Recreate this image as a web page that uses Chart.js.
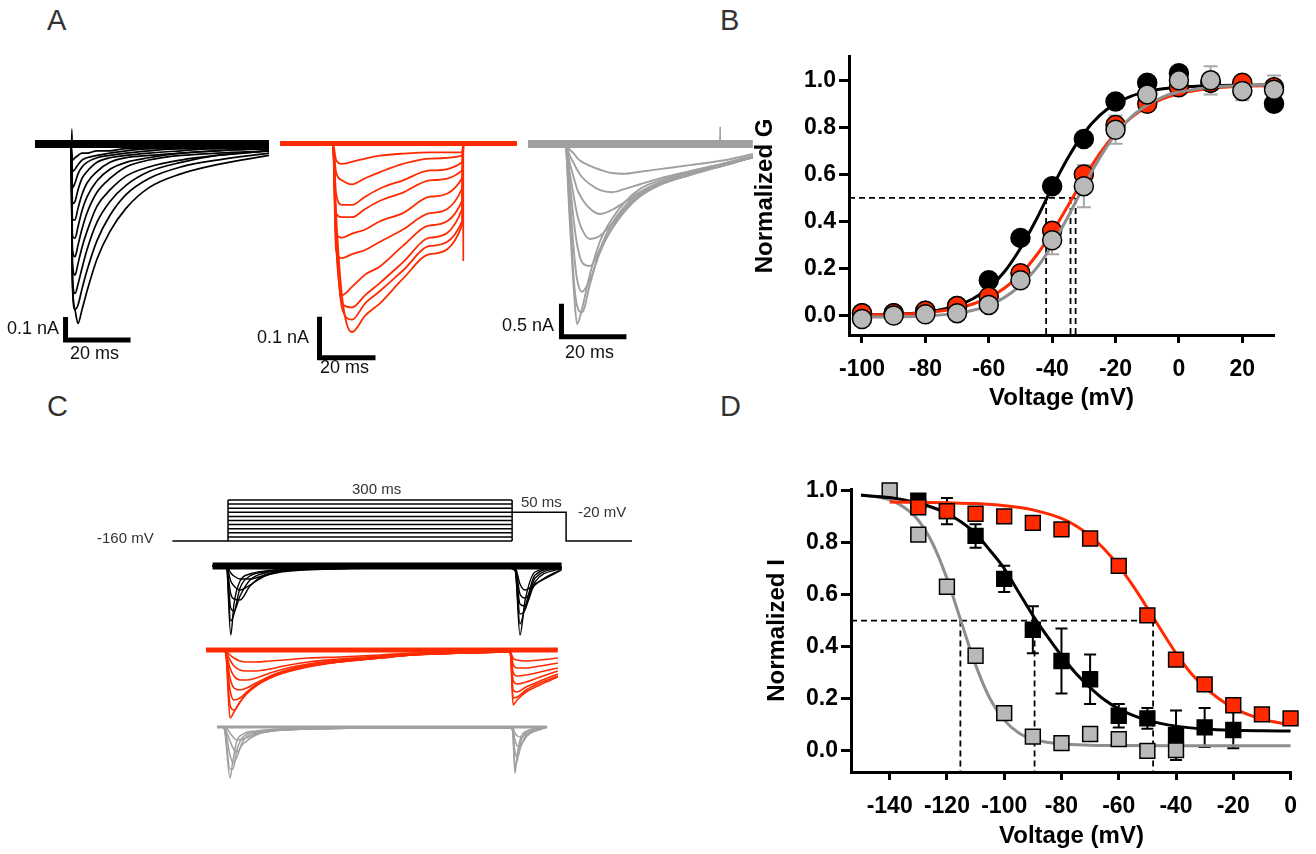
<!DOCTYPE html>
<html><head><meta charset="utf-8">
<script src="https://cdn.jsdelivr.net/npm/chart.js@4.4.1/dist/chart.umd.min.js"></script>
<style>
html,body{margin:0;padding:0;background:#fff;}
body{width:1316px;height:854px;position:relative;overflow:hidden;font-family:"Liberation Sans",Arial,Helvetica,sans-serif;}
canvas{position:absolute;}
.lbl{position:absolute;color:#111;font-size:18px;line-height:20px;white-space:nowrap;}
.pl{position:absolute;color:#333;font-size:29px;line-height:29px;}
.pt{position:absolute;color:#333;font-size:15px;line-height:18px;white-space:nowrap;}
</style></head><body>
<div class="pl" style="left:47px;top:6px">A</div>
<div class="pl" style="left:720px;top:6px">B</div>
<div class="pl" style="left:47px;top:392px">C</div>
<div class="pl" style="left:720px;top:392px">D</div>

<canvas id="a1" width="240" height="240" style="left:35px;top:120px"></canvas>
<canvas id="a2" width="240" height="260" style="left:280px;top:120px"></canvas>
<canvas id="a3" width="235" height="250" style="left:525px;top:115px"></canvas>
<canvas id="c" width="500" height="330" style="left:150px;top:470px"></canvas>
<canvas id="b" width="560" height="390" style="left:740px;top:40px"></canvas>
<canvas id="d" width="570" height="389" style="left:740px;top:465px"></canvas>

<div class="lbl" style="left:7px;top:318px">0.1 nA</div>
<div class="lbl" style="left:70px;top:343px">20 ms</div>
<div class="lbl" style="left:257px;top:327px">0.1 nA</div>
<div class="lbl" style="left:320px;top:357px">20 ms</div>
<div class="lbl" style="left:502px;top:315px">0.5 nA</div>
<div class="lbl" style="left:565px;top:342px">20 ms</div>

<div class="pt" style="left:352px;top:480px">300 ms</div>
<div class="pt" style="left:521px;top:493px">50 ms</div>
<div class="pt" style="left:578px;top:503px">-20 mV</div>
<div class="pt" style="left:97px;top:529px">-160 mV</div>

<script>
// ================= DATA =================
// ---- Panel A : current traces (time in ms, current in nA) ----
const aBlackTime = [0, 11.08, 11.54, 12.31, 13.23, 14.46, 16, 19.08, 23.08, 28, 35.08, 44.92, 56, 72];
const aBlackTraces = [
  [0, 0, -0.60, -0.72, -0.78, -0.72, -0.64, -0.50, -0.38, -0.28, -0.19, -0.13, -0.09, -0.05],
  [0, 0, -0.62, -0.72, -0.70, -0.63, -0.55, -0.42, -0.31, -0.22, -0.15, -0.10, -0.07, -0.04],
  [0, 0, -0.58, -0.65, -0.61, -0.54, -0.46, -0.34, -0.25, -0.18, -0.12, -0.08, -0.05, -0.03],
  [0, 0, -0.52, -0.57, -0.52, -0.45, -0.38, -0.27, -0.20, -0.14, -0.10, -0.07, -0.05, -0.03],
  [0, 0, -0.46, -0.49, -0.44, -0.37, -0.30, -0.21, -0.15, -0.10, -0.07, -0.05, -0.04, -0.03],
  [0, 0, -0.40, -0.41, -0.36, -0.29, -0.23, -0.16, -0.11, -0.08, -0.06, -0.04, -0.03, -0.02],
  [0, 0, -0.33, -0.33, -0.28, -0.22, -0.17, -0.12, -0.08, -0.06, -0.05, -0.04, -0.03, -0.02],
  [0, 0, -0.26, -0.25, -0.20, -0.15, -0.12, -0.08, -0.06, -0.05, -0.04, -0.03, -0.02, -0.02],
  [0, 0, -0.19, -0.17, -0.13, -0.10, -0.08, -0.06, -0.05, -0.04, -0.03, -0.02, -0.02, -0.01],
  [0, 0, -0.12, -0.11, -0.09, -0.07, -0.06, -0.05, -0.04, -0.03, -0.02, -0.02, -0.01, -0.01],
  [0, 0, -0.07, -0.06, -0.05, -0.04, -0.04, -0.03, -0.03, -0.02, -0.02, -0.01, -0.01, -0.01]
];
const aBlackArtifactT = [11.2, 11.35, 11.5];
const aBlackArtifactI = [0, 0.065, 0];
const aBlackBarT = [9.4, 9.4, 29.4];
const aBlackBarI = [-0.752, -0.852, -0.852];

const aRedTime = [0, 18.9, 20.0, 22.1, 25.7, 30.4, 35.7, 43.9, 53.6, 65.0, 65.5, 84.6];
const aRedTraces = [
  [0, 0, -0.17, -0.37, -0.46, -0.42, -0.39, -0.33, -0.27, -0.20, 0, 0],
  [0, 0, -0.20, -0.40, -0.43, -0.39, -0.36, -0.31, -0.25, -0.19, 0, 0],
  [0, 0, -0.22, -0.39, -0.40, -0.37, -0.34, -0.29, -0.23, -0.16, 0, 0],
  [0, 0, -0.24, -0.37, -0.35, -0.32, -0.30, -0.25, -0.20, -0.14, 0, 0],
  [0, 0, -0.26, -0.28, -0.27, -0.26, -0.24, -0.21, -0.17, -0.11, 0, 0],
  [0, 0, -0.22, -0.23, -0.22, -0.21, -0.19, -0.17, -0.13, -0.085, 0, 0],
  [0, 0, -0.17, -0.18, -0.18, -0.16, -0.14, -0.12, -0.09, -0.066, 0, 0],
  [0, 0, -0.12, -0.15, -0.15, -0.13, -0.11, -0.09, -0.066, -0.046, 0, 0],
  [0, 0, -0.07, -0.09, -0.10, -0.085, -0.07, -0.05, -0.037, -0.03, 0, 0],
  [0, 0, -0.04, -0.05, -0.045, -0.037, -0.03, -0.025, -0.022, -0.022, 0, 0]
];
const aRedTailT = [65.3, 65.4, 65.5];
const aRedTailI = [-0.05, -0.285, 0];
const aRedBarT = [14.1, 14.1, 34.1];
const aRedBarI = [-0.423, -0.523, -0.523];

const aGrayTime = [0, 11.4, 12.9, 14.2, 15.1, 16.6, 19.1, 22.2, 25.8, 29.8, 34.5, 40.6, 49.8, 62.2, 69.2];
const aGrayTraces = [
  [0, 0, -1.21, -2.27, -2.73, -2.50, -1.97, -1.47, -1.14, -0.88, -0.68, -0.55, -0.42, -0.27, -0.18],
  [0, 0, -1.06, -2.12, -2.45, -2.55, -2.12, -1.59, -1.21, -0.94, -0.73, -0.58, -0.44, -0.29, -0.20],
  [0, 0, -0.83, -1.67, -2.05, -2.24, -2.05, -1.64, -1.27, -0.98, -0.76, -0.61, -0.45, -0.30, -0.20],
  [0, 0, -0.61, -1.21, -1.52, -1.79, -1.85, -1.59, -1.29, -1.02, -0.79, -0.62, -0.47, -0.30, -0.20],
  [0, 0, -0.45, -0.83, -1.06, -1.29, -1.44, -1.39, -1.21, -0.98, -0.79, -0.62, -0.47, -0.30, -0.20],
  [0, 0, -0.30, -0.53, -0.68, -0.83, -0.98, -1.06, -1.00, -0.88, -0.73, -0.59, -0.45, -0.30, -0.20],
  [0, 0, -0.18, -0.30, -0.39, -0.50, -0.61, -0.70, -0.73, -0.68, -0.61, -0.52, -0.41, -0.27, -0.18],
  [0, 0, -0.09, -0.15, -0.21, -0.27, -0.33, -0.39, -0.44, -0.45, -0.42, -0.38, -0.32, -0.23, -0.15]
];
const aGrayArtifactT = [59.0, 59.1, 59.2];
const aGrayArtifactI = [0, 0.26, 0];
const aGrayBarT = [10.3, 10.3, 30.3];
const aGrayBarI = [-2.42, -2.92, -2.92];

// ---- Panel B : activation (G-V) ----
const bVoltage = [-100, -90, -80, -70, -60, -50, -40, -30, -20, -10, 0, 10, 20, 30];
const bBlack = [0.01, 0.01, 0.02, 0.04, 0.15, 0.33, 0.55, 0.75, 0.91, 0.99, 1.03, 0.99, 0.98, 0.90];
const bBlackErr = [0, 0, 0, 0, 0, 0, 0, 0, 0, 0, 0, 0, 0, 0.02];
const bRed = [0.01, 0.01, 0.02, 0.04, 0.08, 0.18, 0.36, 0.60, 0.81, 0.90, 0.97, 0.99, 0.99, 0.97];
const bRedErr = [0, 0, 0, 0, 0, 0.01, 0.025, 0.02, 0.02, 0, 0, 0, 0, 0];
const bGray = [-0.015, 0.0, 0.005, 0.01, 0.045, 0.15, 0.32, 0.55, 0.79, 0.94, 1.0, 1.0, 0.955, 0.96];
const bGrayErr = [0, 0, 0, 0, 0.01, 0.03, 0.06, 0.09, 0.06, 0.02, 0.02, 0.06, 0.04, 0.06];
const bFitV = [-100, -90, -80, -70, -65, -60, -55, -50, -45, -40, -35, -30, -25, -20, -15, -10, -5, 0, 10, 20, 30];
const bFitBlack = [0.002, 0.005, 0.014, 0.042, 0.071, 0.117, 0.187, 0.286, 0.408, 0.544, 0.671, 0.775, 0.851, 0.901, 0.933, 0.952, 0.964, 0.971, 0.977, 0.979, 0.98];
const bFitRed = [0.002, 0.005, 0.012, 0.031, 0.049, 0.076, 0.117, 0.175, 0.255, 0.354, 0.467, 0.582, 0.688, 0.775, 0.842, 0.889, 0.922, 0.943, 0.966, 0.975, 0.978];
const bFitGray = [-0.007, -0.006, -0.002, 0.009, 0.022, 0.043, 0.077, 0.128, 0.2, 0.3, 0.42, 0.55, 0.67, 0.77, 0.845, 0.895, 0.93, 0.95, 0.97, 0.978, 0.98];
const bHalfV = [-41.9, -34.2, -32.6];
const bXTicks = [-100, -80, -60, -40, -20, 0, 20];
const bYTicks = [0, 0.2, 0.4, 0.6, 0.8, 1.0];

// ---- Panel C : protocol (ms, mV) and traces (a.u.) ----
const cHoldT = [-58.7, 0];
const cHoldMV = -160;
const cCondDur = 300;
const cCondLevels = [-160, -140, -120, -100, -80, -60, -40, -20, 0, 20, 40];
const cTestT = [300, 357, 357, 426.6];
const cTestMV = [-20, -20, -160, -160];

const cBlackTime = [-16.3, -4.2, -1.8, 2.9, 6.3, 12.7, 23.2, 39.1, 65.5, 181.6, 297.8, 303.3, 308.3, 313.6, 324.2, 352.2];
const cBlackTraces = [
  [0, 0, 0, -69, -38, -15, -8, -5, -3, -2, -2, -5, -69, -35, -6, -1],
  [0, 0, 0, -55, -48, -22, -10, -6, -3, -2, -2, -5, -58, -42, -9, -1],
  [0, 0, 0, -42, -45, -30, -14, -7, -4, -2, -2, -4, -48, -44, -12, -2],
  [0, 0, 0, -28, -33, -34, -20, -9, -4, -2, -2, -3, -38, -40, -16, -2],
  [0, 0, 0, -15, -20, -24, -19, -10, -5, -2, -2, -2, -28, -32, -19, -3],
  [0, 0, 0, -7, -10, -13, -13, -9, -4, -2, -2, -2, -18, -24, -18, -4]
];
const cRedTime = [-23.2, -4.2, -2.1, 2.1, 6.3, 12.7, 19.7, 29.6, 44.4, 58.8, 84.5, 117.2, 160.5, 195.4, 250.3, 297.8, 298.8, 301, 305.2, 314.7, 329.5, 348.3];
const cRedTraces = [
  [0, 0, -5, -68, -62, -52, -43, -35, -27, -22, -16, -12, -8, -5, -3, -2, -10, -55, -50, -42, -35, -27],
  [0, 0, -5, -55, -60, -52, -44, -36, -28, -23, -17, -12, -8, -5, -3, -2, -10, -48, -47, -40, -33, -26],
  [0, 0, -5, -40, -50, -48, -42, -35, -28, -22, -16, -12, -8, -5, -3, -2, -8, -40, -42, -37, -31, -24],
  [0, 0, -4, -28, -38, -40, -38, -33, -26, -21, -15, -11, -7, -5, -3, -2, -6, -30, -34, -32, -27, -21],
  [0, 0, -3, -18, -26, -30, -30, -28, -23, -19, -14, -10, -7, -4, -3, -2, -5, -22, -26, -25, -22, -18],
  [0, 0, -2, -10, -16, -20, -21, -21, -19, -16, -12, -9, -6, -4, -3, -2, -4, -14, -18, -18, -16, -13],
  [0, 0, -1, -5, -8, -11, -12, -12, -11, -10, -8, -7, -5, -3, -2, -2, -3, -8, -10, -11, -10, -8]
];
const cGrayTime = [-11.6, -6.3, -3.7, 2.1, 5.3, 9, 15.8, 29.6, 60.2, 181.6, 297.8, 300.5, 303, 305.6, 309.4, 315.7, 330.5, 336.9];
const cGrayTraces = [
  [0, 0, -3, -51, -33, -15, -7, -4, -2, -1, -1, -4, -46, -26, -10, -4, -1, 0],
  [0, 0, -2, -42, -42, -24, -10, -5, -2, -1, -1, -3, -38, -33, -14, -5, -1, 0],
  [0, 0, -1, -28, -36, -31, -14, -6, -3, -1, -1, -2, -25, -30, -19, -7, -2, 0],
  [0, 0, -1, -14, -21, -25, -17, -8, -3, -1, -1, -1, -13, -19, -18, -9, -2, 0],
  [0, 0, 0, -6, -10, -13, -12, -7, -3, -1, -1, -1, -6, -9, -10, -7, -2, 0]
];

// ---- Panel D : steady-state inactivation ----
const dGrayV = [-140, -130, -120, -110, -100, -90, -80, -70, -60, -50, -40];
const dGray = [1.0, 0.83, 0.63, 0.365, 0.145, 0.055, 0.03, 0.065, 0.045, 0.0, 0.003];
const dBlackV = [-130, -120, -110, -100, -90, -80, -70, -60, -50, -40, -30, -20];
const dBlack = [0.96, 0.92, 0.825, 0.66, 0.465, 0.345, 0.275, 0.135, 0.125, 0.06, 0.09, 0.08];
const dBlackErr = [0.01, 0.05, 0.045, 0.05, 0.09, 0.125, 0.095, 0.045, 0.04, 0.095, 0.075, 0.07];
const dRedV = [-130, -120, -110, -100, -90, -80, -70, -60, -50, -40, -30, -20, -10, 0];
const dRed = [0.935, 0.92, 0.91, 0.90, 0.875, 0.85, 0.815, 0.71, 0.52, 0.35, 0.255, 0.175, 0.14, 0.125];
const dFitGrayV = [-150, -140, -135, -130, -125, -120, -115, -110, -105, -100, -95, -90, -85, -80, -70, -60, -40, -20, 0];
const dFitGray = [0.983, 0.963, 0.935, 0.885, 0.796, 0.662, 0.495, 0.33, 0.201, 0.118, 0.07, 0.045, 0.033, 0.026, 0.022, 0.021, 0.02, 0.02, 0.02];
const dFitBlackV = [-150, -140, -130, -125, -120, -115, -110, -105, -100, -95, -90, -85, -80, -75, -70, -65, -60, -55, -50, -40, -30, -20, -10, 0];
const dFitBlack = [0.981, 0.972, 0.951, 0.934, 0.911, 0.878, 0.834, 0.77, 0.70, 0.61, 0.52, 0.44, 0.365, 0.298, 0.243, 0.196, 0.161, 0.136, 0.117, 0.095, 0.084, 0.079, 0.077, 0.076];
const dFitRedV = [-140, -120, -110, -100, -90, -80, -75, -70, -65, -60, -55, -50, -45, -40, -35, -30, -25, -20, -15, -10, -5, 0];
const dFitRed = [0.955, 0.952, 0.949, 0.941, 0.925, 0.892, 0.864, 0.825, 0.774, 0.71, 0.633, 0.548, 0.46, 0.375, 0.301, 0.245, 0.2, 0.165, 0.14, 0.122, 0.11, 0.1];
const dHalfV = [-115.3, -89.4, -48.0];
const dXTicks = [-140, -120, -100, -80, -60, -40, -20, 0];
const dYTicks = [0, 0.2, 0.4, 0.6, 0.8, 1.0];

// ================= STYLE / HELPERS =================
const FONT = '"Liberation Sans", Arial, Helvetica, sans-serif';
const RED = '#ff2a00';
const GRAY_TRACE = '#a0a0a0';
const pts = (xs, ys) => xs.map((x, i) => ({x: x, y: ys[i]}));

const errorBarPlugin = {
  id: 'errorBars',
  beforeDatasetsDraw(chart, args, opts) {
    const sets = (opts && opts.sets) || [];
    const ctx = chart.ctx, xs = chart.scales.x, ys = chart.scales.y;
    ctx.save();
    sets.forEach(s => {
      ctx.strokeStyle = s.color; ctx.lineWidth = s.width;
      s.xs.forEach((xv, i) => {
        const e = s.errs[i]; if (!e) return;
        const px = xs.getPixelForValue(xv);
        const y1 = ys.getPixelForValue(s.ys[i] + e), y2 = ys.getPixelForValue(s.ys[i] - e);
        ctx.beginPath();
        ctx.moveTo(px, y1); ctx.lineTo(px, y2);
        ctx.moveTo(px - s.cap, y1); ctx.lineTo(px + s.cap, y1);
        ctx.moveTo(px - s.cap, y2); ctx.lineTo(px + s.cap, y2);
        ctx.stroke();
      });
    });
    ctx.restore();
  }
};

const baseOpts = () => ({
  responsive: false, animation: false, devicePixelRatio: 1, events: [],
  plugins: {legend: {display: false}, tooltip: {enabled: false}},
});

function traceSet(time, vals, color, width, axis) {
  const ds = {data: pts(time, vals), borderColor: color, borderWidth: width, pointRadius: 0,
    cubicInterpolationMode: 'monotone', fill: false, clip: false};
  if (axis) ds.yAxisID = axis;
  return ds;
}
function flatSet(time, color, width, axis) {
  const ds = {data: [{x: time[0], y: 0}, {x: time[time.length - 1], y: 0}], borderColor: color,
    borderWidth: width, pointRadius: 0, borderCapStyle: 'butt', clip: false};
  if (axis) ds.yAxisID = axis;
  return ds;
}
function barSet(t, i) {
  return {data: pts(t, i), borderColor: '#000', borderWidth: 5, pointRadius: 0,
    borderJoinStyle: 'miter', borderCapStyle: 'butt', tension: 0, clip: false};
}

function traceChart(id, xr, yr, datasets) {
  const o = baseOpts();
  o.layout = {padding: 0};
  o.scales = {
    x: {type: 'linear', display: false, min: xr[0], max: xr[1]},
    y: {type: 'linear', display: false, min: yr[0], max: yr[1]}
  };
  return new Chart(document.getElementById(id), {type: 'line', data: {datasets: datasets}, options: o});
}

// ================= PANEL A =================
(function () {
  const ds1 = [flatSet(aBlackTime, '#000', 8)];
  aBlackTraces.forEach(tr => ds1.push(traceSet(aBlackTime, tr, '#000', 1.7)));
  ds1.push(traceSet(aBlackArtifactT, aBlackArtifactI, '#000', 1.2));
  ds1.push(barSet(aBlackBarT, aBlackBarI));
  traceChart('a1', [0, 73.85], [-0.939, 0.104], ds1);

  const ds2 = [flatSet(aRedTime, RED, 5)];
  aRedTraces.forEach(tr => ds2.push(traceSet(aRedTime, tr, RED, 1.8)));
  ds2.push({data: pts(aRedTailT, aRedTailI), borderColor: RED, borderWidth: 1.4, pointRadius: 0, tension: 0});
  ds2.push(barSet(aRedBarT, aRedBarI));
  traceChart('a2', [0, 85.7], [-0.577, 0.057], ds2);

  const ds3 = [flatSet(aGrayTime, GRAY_TRACE, 8)];
  aGrayTraces.forEach(tr => ds3.push(traceSet(aGrayTime, tr, GRAY_TRACE, 1.9)));
  ds3.push({data: pts(aGrayArtifactT, aGrayArtifactI), borderColor: GRAY_TRACE, borderWidth: 1.2, pointRadius: 0, tension: 0});
  ds3.push(barSet(aGrayBarT, aGrayBarI));
  traceChart('a3', [-0.92, 71.4], [-3.35, 0.44], ds3);
})();

// ================= PANEL C =================
(function () {
  const ds = [];
  const P = {borderColor: '#000', borderWidth: 1.5, pointRadius: 0, tension: 0, yAxisID: 'yP', clip: false};
  ds.push(Object.assign({data: pts(cHoldT, [cHoldMV, cHoldMV])}, P));
  cCondLevels.forEach(L => ds.push(Object.assign({data: [{x: 0, y: L}, {x: cCondDur, y: L}]}, P)));
  const top = cCondLevels[cCondLevels.length - 1];
  ds.push(Object.assign({data: [{x: 0, y: cHoldMV}, {x: 0, y: top}]}, P));
  ds.push(Object.assign({data: [{x: cCondDur, y: cHoldMV}, {x: cCondDur, y: top}]}, P));
  ds.push(Object.assign({data: pts(cTestT, cTestMV)}, P));

  ds.push(flatSet(cBlackTime, '#000', 7, 'yB'));
  cBlackTraces.forEach(tr => ds.push(traceSet(cBlackTime, tr, '#000', 1.4, 'yB')));
  ds.push(flatSet(cRedTime, RED, 5, 'yR'));
  cRedTraces.forEach(tr => ds.push(traceSet(cRedTime, tr, RED, 1.6, 'yR')));
  ds.push(flatSet(cGrayTime, GRAY_TRACE, 3, 'yG'));
  cGrayTraces.forEach(tr => ds.push(traceSet(cGrayTime, tr, GRAY_TRACE, 1.5, 'yG')));

  const o = baseOpts();
  o.layout = {padding: 0};
  o.scales = {
    x: {type: 'linear', display: false, min: -82.37, max: 445.6},
    yP: {type: 'linear', display: false, min: -1423.4, max: 186.3},
    yB: {type: 'linear', display: false, min: -234, max: 96},
    yR: {type: 'linear', display: false, min: -150, max: 180},
    yG: {type: 'linear', display: false, min: -73, max: 257}
  };
  new Chart(document.getElementById('c'), {type: 'line', data: {datasets: ds}, options: o});
})();

// ================= AXIS CHART BUILDER (B, D) =================
function axisChart(id, cfg) {
  const o = baseOpts();
  o.layout = {padding: cfg.padding};
  o.plugins.errorBars = {sets: cfg.errorSets};
  const gridOpts = (len) => ({display: true, drawOnChartArea: false, drawTicks: true, tickLength: len, tickWidth: 3, tickColor: '#000'});
  o.scales = {
    x: {
      type: 'linear', min: cfg.xRange[0], max: cfg.xRange[1],
      afterBuildTicks: a => { a.ticks = cfg.xTicks.map(v => ({value: v})); },
      afterFit: a => { a.height = cfg.xAxisHeight; },
      ticks: {font: {family: FONT, size: 23, weight: 'bold'}, color: '#000', padding: cfg.xTickPad,
        maxRotation: 0, autoSkip: false, callback: v => String(v)},
      grid: gridOpts(8),
      border: {display: true, width: 3, color: '#000'},
      title: {display: true, text: 'Voltage (mV)', color: '#000', font: {family: FONT, size: 24, weight: 'bold'},
        padding: {top: 0, bottom: cfg.xTitlePad}}
    },
    y: {
      type: 'linear', min: cfg.yRange[0], max: cfg.yRange[1],
      afterBuildTicks: a => { a.ticks = cfg.yTicks.map(v => ({value: v})); },
      afterFit: a => { a.width = cfg.yAxisWidth; },
      ticks: {font: {family: FONT, size: 23, weight: 'bold'}, color: '#000', padding: 3,
        autoSkip: false, callback: v => Number(v).toFixed(1)},
      grid: gridOpts(10),
      border: {display: true, width: 3, color: '#000'},
      title: {display: true, text: cfg.yTitle, color: '#000', font: {family: FONT, size: 24, weight: 'bold'},
        padding: {top: cfg.yTitlePad, bottom: 0}}
    }
  };
  return new Chart(document.getElementById(id), {type: 'scatter', data: {datasets: cfg.datasets}, options: o, plugins: [errorBarPlugin]});
}

function pointSet(xs, ys, fill, style, radius, order) {
  return {data: pts(xs, ys), showLine: false, pointStyle: style, pointRadius: radius,
    pointBackgroundColor: fill, pointBorderColor: '#000', pointBorderWidth: 1.5, order: order, clip: false};
}
function curveSet(xs, ys, color, order) {
  return {data: pts(xs, ys), showLine: true, borderColor: color, borderWidth: 3, pointRadius: 0,
    cubicInterpolationMode: 'monotone', order: order, clip: false};
}
function dashSets(halfs, xMin, yMin, order) {
  const out = [];
  const dash = {showLine: true, borderColor: '#000', borderWidth: 1.8, borderDash: [6, 4], pointRadius: 0, tension: 0, order: order, clip: false};
  out.push(Object.assign({data: [{x: xMin, y: 0.5}, {x: Math.max.apply(null, halfs), y: 0.5}]}, dash));
  halfs.forEach(h => out.push(Object.assign({data: [{x: h, y: 0.5}, {x: h, y: yMin}]}, dash)));
  return out;
}

// ================= PANEL B =================
(function () {
  const xR = [-104.1, 30], yR = [-0.083, 1.1];
  const ds = [
    pointSet(bVoltage, bGray, '#b9b9b9', 'circle', 9.5, 1),
    curveSet(bFitV, bFitGray, '#8e8e8e', 2),
    pointSet(bVoltage, bRed, RED, 'circle', 9.5, 3),
    curveSet(bFitV, bFitRed, RED, 4),
    pointSet(bVoltage, bBlack, '#000', 'circle', 9.5, 5),
    curveSet(bFitV, bFitBlack, '#000', 6)
  ].concat(dashSets(bHalfV, xR[0], yR[0], 7));
  axisChart('b', {
    padding: {top: 11, right: 26, left: 0, bottom: 0},
    xRange: xR, yRange: yR, xTicks: bXTicks, yTicks: bYTicks,
    xAxisHeight: 95, yAxisWidth: 109, xTickPad: 13, xTitlePad: 17, yTitlePad: 11,
    yTitle: 'Normalized G', datasets: ds,
    errorSets: [
      {xs: bVoltage, ys: bBlack, errs: bBlackErr, color: '#000', width: 2, cap: 6},
      {xs: bVoltage, ys: bRed, errs: bRedErr, color: '#444', width: 2, cap: 6},
      {xs: bVoltage, ys: bGray, errs: bGrayErr, color: '#a8a8a8', width: 2, cap: 7}
    ]
  });
})();

// ================= PANEL D =================
(function () {
  const xR = [-153.5, 0.5], yR = [-0.081, 1.005];
  const ds = [
    pointSet(dRedV, dRed, RED, 'rect', 10.5, 1),
    curveSet(dFitRedV, dFitRed, RED, 2),
    pointSet(dBlackV, dBlack, '#000', 'rect', 10.5, 3),
    curveSet(dFitBlackV, dFitBlack, '#000', 4),
    pointSet(dGrayV, dGray, '#b9b9b9', 'rect', 10.5, 5),
    curveSet(dFitGrayV, dFitGray, '#8e8e8e', 6)
  ].concat(dashSets(dHalfV, xR[0], yR[0], 7));
  axisChart('d', {
    padding: {top: 24, right: 12, left: 0, bottom: 0},
    xRange: xR, yRange: yR, xTicks: dXTicks, yTicks: dYTicks,
    xAxisHeight: 82, yAxisWidth: 111, xTickPad: 13, xTitlePad: 3, yTitlePad: 23,
    yTitle: 'Normalized I', datasets: ds,
    errorSets: [
      {xs: dBlackV, ys: dBlack, errs: dBlackErr, color: '#000', width: 2, cap: 6}
    ]
  });
})();
</script>
</body></html>
